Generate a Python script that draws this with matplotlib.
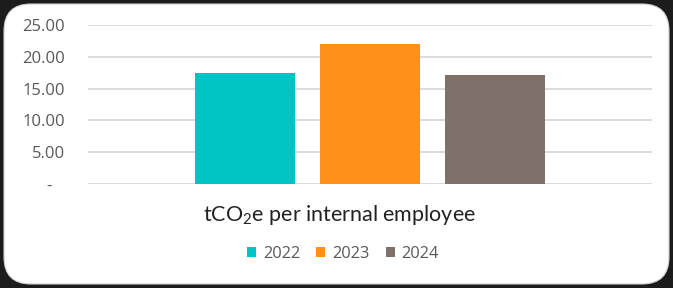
import matplotlib.pyplot as plt
from matplotlib.patches import FancyBboxPatch

# data
category = "tCO$_2$e per internal employee"
years = ["2022", "2023", "2024"]
values = [17.45, 22.0, 17.1]
colors = ["#00C4C4", "#FF9118", "#7F7069"]
yticks = [0, 5, 10, 15, 20, 25]
ytick_labels = ["-   ", "5.00", "10.00", "15.00", "20.00", "25.00"]

plt.rcParams["mathtext.fontset"] = "custom"
plt.rcParams["mathtext.rm"] = "Lato"
plt.rcParams["mathtext.it"] = "Lato"

fig = plt.figure(figsize=(6.73, 2.88), dpi=100)
fig.patch.set_facecolor("#1c1c1c")

# white rounded card
card = FancyBboxPatch((4 / 673, 4 / 288), 665 / 673, 280 / 288,
                      boxstyle="round,pad=0,rounding_size=0.04",
                      transform=fig.transFigure, facecolor="white",
                      edgecolor="#d0d0d0", linewidth=0.8, mutation_aspect=673 / 288,
                      zorder=-10)
fig.patches.append(card)

ax = fig.add_axes([88 / 673, 1 - 184 / 288, 564 / 673, 159 / 288])
ax.set_facecolor("none")

width = 0.177
step = 0.222
for i, (yr, v, c) in enumerate(zip(years, values, colors)):
    ax.bar((i - 1) * step, v, width=width, color=c, label=yr, zorder=3)

ax.set_xlim(-0.5, 0.5)
ax.set_ylim(0, 25)
ax.set_yticks(yticks)
ax.set_yticklabels(ytick_labels, fontsize=12, color="#595959", family="Open Sans")
ax.set_xticks([])
ax.grid(axis="y", color="#d9d9d9", linewidth=1.3, zorder=0)
ax.tick_params(axis="y", length=0, pad=16.5)
for s in ax.spines.values():
    s.set_visible(False)

fig.text(339 / 673, 1 - 215 / 288, category, ha="center", va="center",
         fontsize=15.5, color="#222222", family="Lato")

leg = fig.legend(loc="center", bbox_to_anchor=(343 / 673, 1 - 254 / 288), ncol=3,
                 frameon=False, handlelength=0.55, handleheight=0.55,
                 handletextpad=0.4, columnspacing=1.0,
                 prop={"family": "Open Sans", "size": 11.8})
for t in leg.get_texts():
    t.set_color("#595959")

fig.savefig("out.png", dpi=100, facecolor=fig.get_facecolor())
